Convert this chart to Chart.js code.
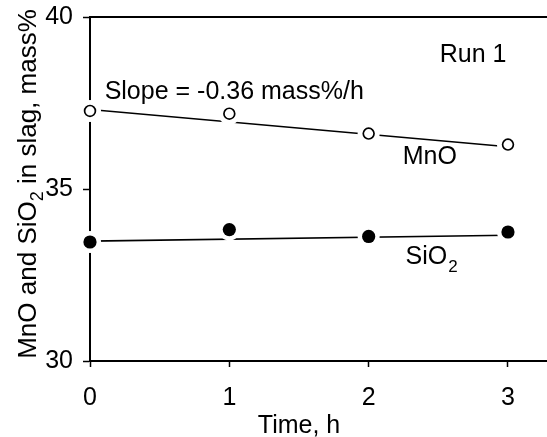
<!DOCTYPE html>
<html>
<head>
<meta charset="utf-8">
<script src="https://cdn.jsdelivr.net/npm/chart.js@4.4.1/dist/chart.umd.min.js"></script>
<style>
  html, body { margin: 0; padding: 0; background: #fff; }
  #wrap { width: 547px; height: 437px; }
</style>
</head>
<body>
<div id="wrap"><canvas id="chart" width="547" height="437"></canvas></div>
<script>
// Run 1 - MnO and SiO2 content of slag vs time
const times = [0, 1, 2, 3];
const mnoValues = [37.27, 37.19, 36.61, 36.29];
const sio2Values = [33.46, 33.82, 33.62, 33.75];

// fitted straight lines (end points at t = 0 and t = 3)
const fitTimes = [0, 3];
const mnoFit = [37.31, 36.23];
const sio2Fit = [33.485, 33.655];

const xTicks = [0, 1, 2, 3];
const yTicks = [30, 35, 40];

const FONT = "'Liberation Sans', Arial, sans-serif";

const toPoints = (xs, ys) => xs.map((x, i) => ({ x: x, y: ys[i] }));

// text placed on the plot, in data units (x, y = left / baseline)
const labels = [
    { text: 'Run 1', x: 2.51, y: 38.68 },
    { text: 'Slope = -0.36 mass%/h', x: 0.105, y: 37.61 },
    { text: 'MnO', x: 2.245, y: 35.74 },
    { text: 'SiO', sub: '2', x: 2.265, y: 32.83 }
];

const textPlugin = {
    id: 'textPlugin',
    afterDraw(chart) {
        const ctx = chart.ctx;
        const xs = chart.scales.x;
        const ys = chart.scales.y;
        const area = chart.chartArea;
        ctx.save();
        ctx.fillStyle = '#000';
        ctx.strokeStyle = '#000';

        // top frame line
        ctx.lineWidth = 2;
        ctx.beginPath();
        ctx.moveTo(area.left - 1, area.top);
        ctx.lineTo(area.right, area.top);
        ctx.stroke();

        ctx.textBaseline = 'alphabetic';
        ctx.textAlign = 'left';
        labels.forEach(l => {
            const px = xs.getPixelForValue(l.x);
            const py = ys.getPixelForValue(l.y);
            ctx.font = '25px ' + FONT;
            ctx.fillText(l.text, px, py);
            if (l.sub) {
                const w = ctx.measureText(l.text).width;
                ctx.font = '17px ' + FONT;
                ctx.fillText(l.sub, px + w + 1, py + 8);
            }
        });

        // x axis title, centred on the 0..3 range
        ctx.font = '25px ' + FONT;
        ctx.textAlign = 'center';
        const cx = (xs.getPixelForValue(0) + xs.getPixelForValue(3)) / 2;
        ctx.fillText('Time, h', cx, 433);

        // y axis title, rotated, with subscript
        const parts = [
            { t: 'MnO and SiO', f: 26, dy: 0 },
            { t: '2', f: 18, dy: 7 },
            { t: ' in slag, mass%', f: 26, dy: 0 }
        ];
        let total = 0;
        parts.forEach(p => {
            ctx.font = p.f + 'px ' + FONT;
            p.w = ctx.measureText(p.t).width;
            total += p.w;
        });
        ctx.translate(36, 184);
        ctx.rotate(-Math.PI / 2);
        ctx.textAlign = 'left';
        let pos = -total / 2;
        parts.forEach(p => {
            ctx.font = p.f + 'px ' + FONT;
            ctx.fillText(p.t, pos, p.dy);
            pos += p.w;
        });
        ctx.restore();
    }
};

const ctx = document.getElementById('chart').getContext('2d');
new Chart(ctx, {
    type: 'scatter',
    data: {
        datasets: [
            {
                label: 'MnO fit',
                data: toPoints(fitTimes, mnoFit),
                showLine: true,
                borderColor: '#000',
                borderWidth: 1.6,
                pointRadius: 0,
                order: 3
            },
            {
                label: 'SiO2 fit',
                data: toPoints(fitTimes, sio2Fit),
                showLine: true,
                borderColor: '#000',
                borderWidth: 1.6,
                pointRadius: 0,
                order: 3
            },
            {
                // white gaps around the markers
                label: 'MnO gap',
                data: toPoints(times, mnoValues),
                pointRadius: 11,
                pointBackgroundColor: '#fff',
                pointBorderWidth: 0,
                clip: false,
                order: 2
            },
            {
                label: 'SiO2 gap',
                data: toPoints(times, sio2Values),
                pointRadius: 11,
                pointBackgroundColor: '#fff',
                pointBorderWidth: 0,
                clip: false,
                order: 2
            },
            {
                label: 'MnO',
                data: toPoints(times, mnoValues),
                pointRadius: 5.4,
                pointBackgroundColor: '#fff',
                pointBorderColor: '#000',
                pointBorderWidth: 1.7,
                clip: false,
                order: 1
            },
            {
                label: 'SiO2',
                data: toPoints(times, sio2Values),
                pointRadius: 6.6,
                pointBackgroundColor: '#000',
                pointBorderColor: '#000',
                pointBorderWidth: 0,
                clip: false,
                order: 1
            }
        ]
    },
    options: {
        responsive: false,
        animation: false,
        devicePixelRatio: 1,
        layout: {
            autoPadding: false,
            padding: { top: 17, right: 0, left: 0, bottom: 0 }
        },
        plugins: {
            legend: { display: false },
            tooltip: { enabled: false },
            title: { display: false }
        },
        scales: {
            x: {
                type: 'linear',
                min: 0,
                max: 3.28,
                afterBuildTicks: s => { s.ticks = xTicks.map(v => ({ value: v })); },
                afterFit: s => {
                    s.height = 76;
                    s.paddingLeft = 0;
                    s.paddingRight = 0;
                },
                grid: {
                    display: true,
                    drawOnChartArea: false,
                    drawTicks: true,
                    tickLength: 6,
                    tickWidth: 1.5,
                    tickColor: '#000'
                },
                border: { display: true, color: '#000', width: 2 },
                ticks: {
                    color: '#000',
                    padding: 16,
                    font: { family: FONT, size: 25 }
                }
            },
            y: {
                type: 'linear',
                min: 30,
                max: 40,
                afterBuildTicks: s => { s.ticks = yTicks.map(v => ({ value: v })); },
                afterFit: s => {
                    s.width = 90;
                    s.paddingTop = 0;
                    s.paddingBottom = 0;
                },
                grid: {
                    display: true,
                    drawOnChartArea: false,
                    drawTicks: true,
                    tickLength: 7,
                    tickWidth: 1.5,
                    tickColor: '#000'
                },
                border: { display: true, color: '#000', width: 2 },
                ticks: {
                    color: '#000',
                    padding: 10,
                    font: { family: FONT, size: 25 }
                }
            }
        }
    },
    plugins: [textPlugin]
});
</script>
</body>
</html>
